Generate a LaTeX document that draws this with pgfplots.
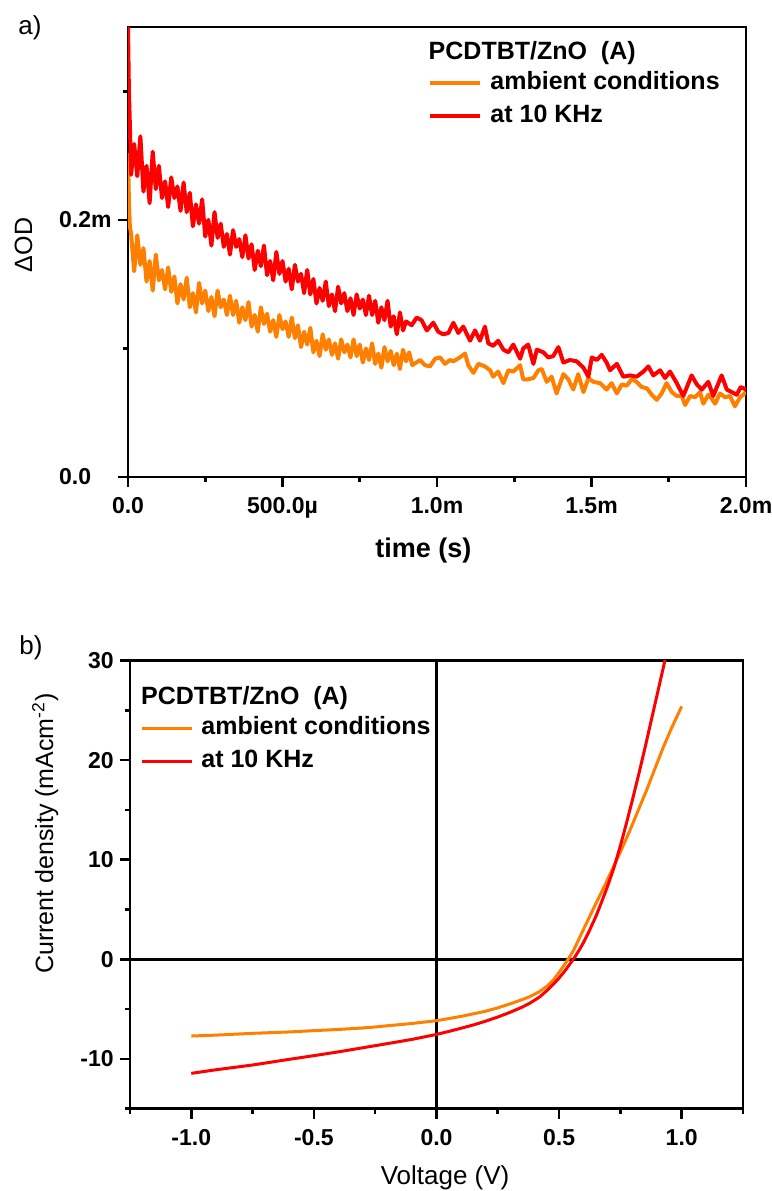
\documentclass[border=0pt]{standalone}
\usepackage{fontspec}
\setmainfont{Liberation Sans}
\usepackage{pgfplots}
\pgfplotsset{compat=1.18}
\definecolor{cOrange}{RGB}{255,128,0}
\definecolor{cRed}{RGB}{255,0,0}
\newcommand{\tickfont}{\bfseries\fontsize{11.5}{13}\selectfont}
\newcommand{\legfont}{\bfseries\fontsize{12.5}{15}\selectfont}
\pgfplotsset{
  mystyle/.style={
    scale only axis, anchor=south west,
    axis line style={line width=1.4pt},
    tick pos=left, tick align=outside,
    major tick length=5pt, minor tick length=2.5pt,
    every tick/.style={line width=1.3pt, black},
    tick label style={font=\tickfont, inner sep=0pt},
    xticklabel style={yshift=-5pt},
    yticklabel style={xshift=-3pt},
    legend cell align=left,
    legend image code/.code={\draw[##1] (0pt,0pt) -- (25pt,0pt);},
  }
}
\begin{document}
\begin{tikzpicture}
\useasboundingbox (0,0) rectangle (386pt,595.5pt);
\node[font=\fontsize{13}{15}\selectfont, inner sep=0pt] at (15pt,581.5pt) {a)};
\node[font=\fontsize{13}{15}\selectfont, inner sep=0pt] at (15.5pt,271.5pt) {b)};
% ---------------- top axis ----------------
\begin{axis}[mystyle,
  at={(64pt,357pt)}, width=309pt, height=225pt,
  xmin=0, xmax=2, ymin=0, ymax=0.35,
  xtick={0,0.5,1,1.5,2}, xticklabels={0.0,500.0µ,1.0m,1.5m,2.0m},
  minor xtick={0.25,0.75,1.25,1.75},
  ytick={0,0.2}, yticklabels={0.0\phantom{m},0.2m},
  minor ytick={0.1,0.3},
  xlabel={time (s)},
  xlabel style={at={(axis description cs:0.478,-0.18)}, anchor=base, inner sep=0pt, font=\bfseries\fontsize{13.5}{16}\selectfont},
  ylabel={ΔOD},
  ylabel style={at={(axis description cs:-0.1553,0.5156)}, anchor=base, inner sep=0pt, font=\fontsize{12.5}{15}\selectfont},
  legend style={at={(axis description cs:0.4856,0.8389)}, anchor=west, draw=none, fill=none, inner sep=0pt, row sep=4pt, column sep=4pt, font=\legfont, nodes={inner sep=0pt, text height=9.5pt, text depth=3pt}},
]
\addplot[cOrange, line width=2pt, line join=round] coordinates {
(0,0.252) (0.003,0.215) (0.006,0.195) (0.01,0.189) (0.02,0.160) (0.03,0.188) (0.04,0.165) (0.05,0.178) (0.06,0.152) (0.07,0.168) (0.08,0.145) (0.09,0.173) (0.10,0.153)
(0.11,0.161) (0.12,0.146) (0.13,0.163) (0.14,0.144) (0.15,0.156) (0.16,0.135) (0.17,0.150) (0.18,0.138) (0.19,0.155) (0.20,0.132)
(0.21,0.143) (0.22,0.128) (0.23,0.151) (0.24,0.135) (0.25,0.145) (0.26,0.129) (0.27,0.140) (0.28,0.125) (0.29,0.145) (0.30,0.132)
(0.31,0.138) (0.32,0.126) (0.33,0.141) (0.34,0.126) (0.35,0.137) (0.36,0.120) (0.37,0.132) (0.38,0.122) (0.39,0.136) (0.40,0.117)
(0.41,0.126) (0.42,0.113) (0.43,0.132) (0.44,0.119) (0.45,0.127) (0.46,0.113) (0.47,0.122) (0.48,0.109) (0.49,0.126) (0.50,0.115)
(0.51,0.121) (0.52,0.109) (0.53,0.124) (0.54,0.108) (0.55,0.118) (0.56,0.101) (0.57,0.113) (0.58,0.103) (0.59,0.116) (0.60,0.097)
(0.61,0.106) (0.62,0.094) (0.63,0.111) (0.64,0.099) (0.65,0.107) (0.66,0.095) (0.67,0.104) (0.68,0.092) (0.69,0.107) (0.70,0.097)
(0.71,0.103) (0.72,0.093) (0.73,0.107) (0.74,0.094) (0.75,0.103) (0.76,0.089) (0.77,0.100) (0.78,0.091) (0.79,0.104) (0.80,0.088)
(0.81,0.096) (0.82,0.085) (0.83,0.101) (0.84,0.090) (0.85,0.098) (0.86,0.087) (0.87,0.096) (0.88,0.084) (0.89,0.099) (0.90,0.090)
(0.91,0.097) (0.92,0.087)
(0.945,0.091) (0.961,0.087) (0.977,0.086) (0.994,0.092) (1.010,0.093) (1.026,0.088) (1.042,0.091) (1.053,0.090) (1.074,0.093)
(1.091,0.096) (1.101,0.087) (1.118,0.081) (1.134,0.088) (1.155,0.086) (1.172,0.083) (1.182,0.078) (1.198,0.082) (1.215,0.073)
(1.231,0.083) (1.247,0.082) (1.269,0.087) (1.279,0.076) (1.295,0.076) (1.312,0.077) (1.328,0.083) (1.339,0.084) (1.355,0.074)
(1.371,0.078) (1.387,0.065) (1.409,0.080) (1.425,0.076) (1.441,0.068) (1.457,0.080) (1.474,0.066) (1.490,0.077) (1.506,0.074)
(1.528,0.073) (1.549,0.068) (1.565,0.073) (1.582,0.065) (1.598,0.072) (1.614,0.071) (1.630,0.076) (1.646,0.074) (1.662,0.070)
(1.679,0.069) (1.695,0.064) (1.711,0.060) (1.727,0.065) (1.743,0.073) (1.760,0.066) (1.776,0.063) (1.792,0.063) (1.803,0.056)
(1.819,0.063) (1.835,0.062) (1.851,0.066) (1.862,0.057) (1.878,0.064) (1.889,0.061) (1.900,0.057) (1.916,0.065) (1.932,0.062)
(1.948,0.063) (1.964,0.055) (1.981,0.062) (2.000,0.066)
};
\addlegendentry{ambient conditions}
\addplot[cRed, line width=2pt, line join=round] coordinates {
(0,0.350) (0.003,0.300) (0.006,0.275) (0.01,0.235) (0.02,0.259) (0.03,0.234) (0.04,0.265) (0.05,0.222) (0.06,0.242) (0.07,0.213) (0.08,0.253) (0.09,0.224) (0.10,0.242)
(0.11,0.217) (0.12,0.230) (0.13,0.210) (0.14,0.233) (0.15,0.217) (0.16,0.226) (0.17,0.207) (0.18,0.229) (0.19,0.206) (0.20,0.221)
(0.21,0.195) (0.22,0.212) (0.23,0.197) (0.24,0.216) (0.25,0.187) (0.26,0.200) (0.27,0.180) (0.28,0.206) (0.29,0.186) (0.30,0.197)
(0.31,0.179) (0.32,0.189) (0.33,0.173) (0.34,0.192) (0.35,0.179) (0.36,0.185) (0.37,0.171) (0.38,0.188) (0.39,0.170) (0.40,0.181)
(0.41,0.161) (0.42,0.176) (0.43,0.164) (0.44,0.180) (0.45,0.157) (0.46,0.168) (0.47,0.153) (0.48,0.175) (0.49,0.158) (0.50,0.168)
(0.51,0.152) (0.52,0.162) (0.53,0.146) (0.54,0.165) (0.55,0.152) (0.56,0.158) (0.57,0.143) (0.58,0.161) (0.59,0.142) (0.60,0.154)
(0.61,0.135) (0.62,0.147) (0.63,0.137) (0.64,0.152) (0.65,0.133) (0.66,0.142) (0.67,0.129) (0.68,0.148) (0.69,0.135) (0.70,0.143)
(0.71,0.129) (0.72,0.139) (0.73,0.126) (0.74,0.142) (0.75,0.131) (0.76,0.138) (0.77,0.126) (0.78,0.141) (0.79,0.126) (0.80,0.137)
(0.81,0.120) (0.82,0.132) (0.83,0.122) (0.84,0.137) (0.85,0.117) (0.86,0.125) (0.87,0.111) (0.88,0.128) (0.89,0.114) (0.90,0.121)
(0.918,0.118) (0.934,0.124) (0.950,0.122) (0.967,0.114) (0.988,0.120) (1.004,0.113) (1.020,0.111) (1.037,0.112) (1.053,0.120)
(1.069,0.112) (1.085,0.117) (1.107,0.106) (1.123,0.114) (1.139,0.106) (1.155,0.117) (1.166,0.104) (1.182,0.102) (1.198,0.106)
(1.215,0.099) (1.231,0.097) (1.247,0.103) (1.269,0.092) (1.279,0.100) (1.295,0.103) (1.312,0.088) (1.323,0.099) (1.344,0.097)
(1.360,0.093) (1.376,0.094) (1.393,0.101) (1.409,0.089) (1.430,0.091) (1.452,0.090) (1.474,0.085) (1.490,0.078) (1.501,0.093)
(1.517,0.091) (1.533,0.095) (1.549,0.089) (1.560,0.083) (1.582,0.088) (1.603,0.078) (1.625,0.079) (1.646,0.078) (1.668,0.082)
(1.684,0.086) (1.700,0.079) (1.722,0.083) (1.738,0.077) (1.754,0.082) (1.776,0.073) (1.797,0.063) (1.824,0.079) (1.841,0.072)
(1.857,0.068) (1.878,0.074) (1.894,0.063) (1.921,0.079) (1.938,0.068) (1.954,0.066) (1.970,0.064) (1.983,0.070) (2.000,0.068)
};
\addlegendentry{at 10 KHz}
\node[anchor=base west, font=\legfont, inner sep=0pt] at (axis description cs:0.4860,0.9267) {PCDTBT/ZnO\ \ (A)};
\end{axis}
% ---------------- bottom axis ----------------
\begin{axis}[mystyle,
  at={(65pt,41.2pt)}, width=306.5pt, height=224pt,
  xmin=-1.25, xmax=1.25, ymin=-15, ymax=30,
  xtick={-1,-0.5,0,0.5,1}, xticklabels={-1.0,-0.5,0.0,0.5,1.0},
  minor xtick={-1.25,-0.75,-0.25,0.25,0.75,1.25},
  ytick={-10,0,10,20,30}, yticklabels={-10,0,10,20,30},
  minor ytick={-15,-5,5,15,25},
  xlabel={Voltage (V)},
  xlabel style={at={(axis description cs:0.514,-0.1705)}, anchor=base, inner sep=0pt, font=\fontsize{13}{15}\selectfont},
  ylabel={Current density (mAcm\textsuperscript{-2})},
  ylabel style={at={(axis description cs:-0.1256,0.614)}, anchor=base, inner sep=0pt, font=\fontsize{12.5}{15}\selectfont},
  legend style={at={(axis description cs:0.0163,0.8127)}, anchor=west, draw=none, fill=none, inner sep=0pt, row sep=4pt, column sep=4pt, font=\legfont, nodes={inner sep=0pt, text height=9.5pt, text depth=3pt}},
]
\addplot[black, line width=1.3pt, forget plot] coordinates {(0,-15) (0,30)};
\addplot[black, line width=1.3pt, forget plot] coordinates {(-1.25,0) (1.25,0)};
\addplot[cOrange, line width=1.5pt, line join=round] coordinates {
(-1.0,-7.71) (-0.9,-7.62) (-0.8,-7.50) (-0.75,-7.44) (-0.6,-7.30) (-0.5,-7.17) (-0.4,-7.05) (-0.3,-6.90) (-0.25,-6.80) (-0.2,-6.68)
(-0.1,-6.45) (0.0,-6.17) (0.1,-5.74) (0.2,-5.22) (0.25,-4.88) (0.3,-4.48) (0.35,-4.05) (0.38,-3.76) (0.42,-3.25) (0.45,-2.72)
(0.48,-1.98) (0.5,-1.32) (0.52,-0.62) (0.54,0.12) (0.56,0.95) (0.585,2.25) (0.62,4.05) (0.653,5.75) (0.69,7.6) (0.721,9.25)
(0.755,11.05) (0.789,12.95) (0.82,14.8) (0.857,17.0) (0.89,19.1) (0.925,21.3) (0.96,23.3) (1.0,25.4)
};
\addlegendentry{ambient conditions}
\addplot[cRed, line width=1.5pt, line join=round] coordinates {
(-1.0,-11.46) (-0.9,-11.10) (-0.75,-10.62) (-0.6,-10.05) (-0.5,-9.68) (-0.4,-9.30) (-0.25,-8.68) (-0.1,-8.05) (0.0,-7.55)
(0.05,-7.25) (0.1,-6.93) (0.15,-6.60) (0.2,-6.22) (0.25,-5.80) (0.3,-5.33) (0.35,-4.80) (0.38,-4.42) (0.42,-3.80) (0.45,-3.15)
(0.48,-2.42) (0.5,-1.88) (0.52,-1.28) (0.54,-0.62) (0.565,0.25) (0.585,1.05) (0.6,1.7) (0.625,2.95) (0.65,4.3) (0.675,5.85)
(0.7,7.5) (0.725,9.3) (0.75,11.4) (0.775,13.7) (0.8,16.1) (0.825,18.6) (0.85,21.2) (0.875,23.9) (0.9,26.6) (0.925,29.3) (0.935,30.4)
};
\addlegendentry{at 10 KHz}
\node[anchor=base west, font=\legfont, inner sep=0pt] at (axis description cs:0.0175,0.9031) {PCDTBT/ZnO\ \ (A)};
\end{axis}
\end{tikzpicture}
\end{document}
